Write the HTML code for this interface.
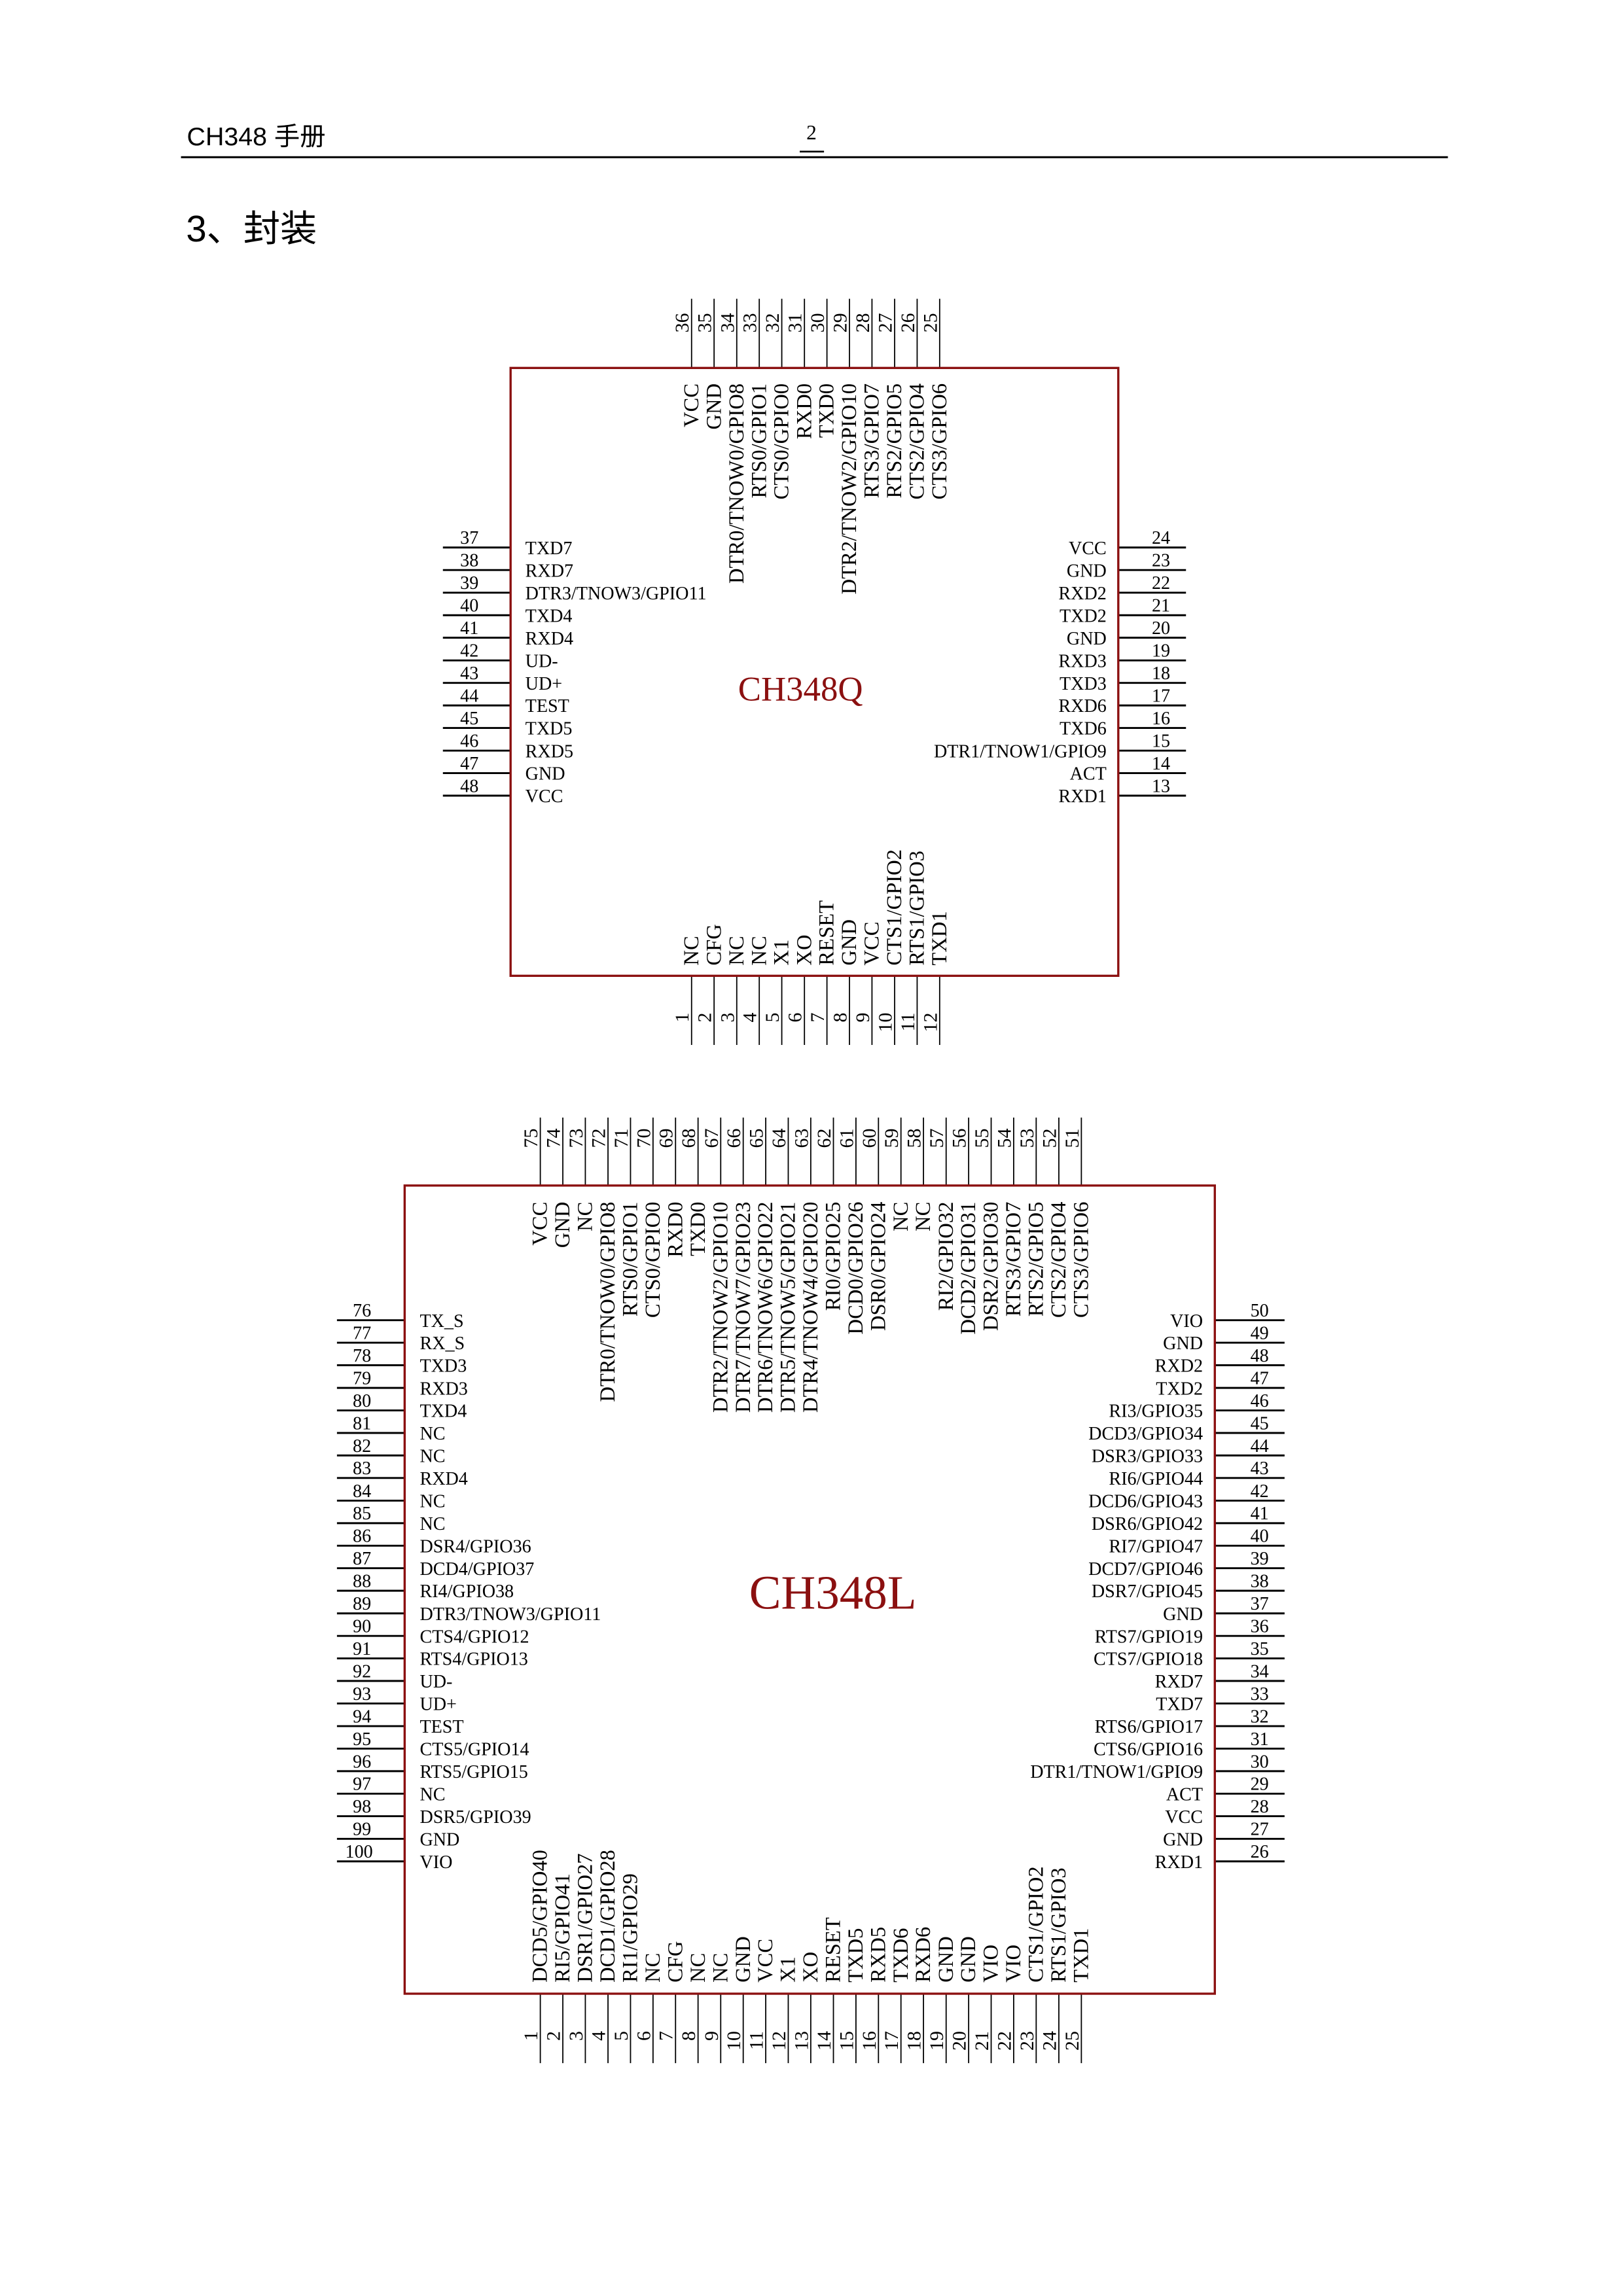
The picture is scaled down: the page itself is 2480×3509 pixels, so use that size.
<!DOCTYPE html>
<html><head><meta charset="utf-8"><style>
html,body{margin:0;padding:0;background:#fff}
svg{display:block}
text{font-family:"Liberation Serif",serif;fill:#000}
.s{font-size:12.5px}
.r{font-size:14.5px}
.q{font-size:13.3px}
.n{font-size:12.5px}
</style></head><body>
<svg width="2480" height="3509" viewBox="0 0 1103 1560" preserveAspectRatio="none" xmlns="http://www.w3.org/2000/svg">
<rect width="1103" height="1560" fill="#fff"/>
<text x="127" y="98.6" style="font-family:'Liberation Sans','Noto Sans CJK SC',sans-serif;font-size:17.5px">CH348 手册</text>
<text x="551.5" y="94.8" text-anchor="middle" style="font-size:14px">2</text>
<line x1="543.5" y1="103" x2="560" y2="103" stroke="#000" stroke-width="1.2"/>
<line x1="123" y1="106.8" x2="984" y2="106.8" stroke="#000" stroke-width="1.3"/>
<text x="126.5" y="164" style="font-family:'Liberation Sans','Noto Sans CJK SC',sans-serif;font-size:25px">3、封装</text>

<!-- ===== CH348Q ===== -->
<path d="M470 203V250M485.3 203V250M500.7 203V250M516 203V250M531.3 203V250M546.7 203V250M562 203V250M577.3 203V250M592.6 203V250M608 203V250M623.3 203V250M638.6 203V250
M470 663V710M485.3 663V710M500.7 663V710M516 663V710M531.3 663V710M546.7 663V710M562 663V710M577.3 663V710M592.6 663V710M608 663V710M623.3 663V710M638.6 663V710" stroke="#000" stroke-width="0.8"/>
<path d="M301 372H347M301 387.3H347M301 402.7H347M301 418H347M301 433.3H347M301 448.7H347M301 464H347M301 479.3H347M301 494.6H347M301 510H347M301 525.3H347M301 540.6H347
M760 372H806M760 387.3H806M760 402.7H806M760 418H806M760 433.3H806M760 448.7H806M760 464H806M760 479.3H806M760 494.6H806M760 510H806M760 525.3H806M760 540.6H806" stroke="#000" stroke-width="1.3"/>
<rect x="347" y="250" width="413" height="413" fill="none" stroke="#8b1010" stroke-width="1.5"/>
<text x="544" y="476" text-anchor="middle" style="font-size:23.5px;fill:#8b1010">CH348Q</text>

<g class="s" transform="translate(0,3)">
<text x="357" y="373.5">TXD7</text><text x="357" y="388.8">RXD7</text><text x="357" y="404.2">DTR3/TNOW3/GPIO11</text><text x="357" y="419.5">TXD4</text><text x="357" y="434.8">RXD4</text><text x="357" y="450.2">UD-</text><text x="357" y="465.5">UD+</text><text x="357" y="480.8">TEST</text><text x="357" y="496.1">TXD5</text><text x="357" y="511.5">RXD5</text><text x="357" y="526.8">GND</text><text x="357" y="542.1">VCC</text>
</g>
<g class="s" text-anchor="end" transform="translate(0,3)">
<text x="752" y="373.5">VCC</text><text x="752" y="388.8">GND</text><text x="752" y="404.2">RXD2</text><text x="752" y="419.5">TXD2</text><text x="752" y="434.8">GND</text><text x="752" y="450.2">RXD3</text><text x="752" y="465.5">TXD3</text><text x="752" y="480.8">RXD6</text><text x="752" y="496.1">TXD6</text><text x="752" y="511.5">DTR1/TNOW1/GPIO9</text><text x="752" y="526.8">ACT</text><text x="752" y="542.1">RXD1</text>
</g>
<g class="n" text-anchor="middle">
<text x="319" y="369.5">37</text><text x="319" y="384.8">38</text><text x="319" y="400.2">39</text><text x="319" y="415.5">40</text><text x="319" y="430.8">41</text><text x="319" y="446.2">42</text><text x="319" y="461.5">43</text><text x="319" y="476.8">44</text><text x="319" y="492.1">45</text><text x="319" y="507.5">46</text><text x="319" y="522.8">47</text><text x="319" y="538.1">48</text>
<text x="789" y="369.5">24</text><text x="789" y="384.8">23</text><text x="789" y="400.2">22</text><text x="789" y="415.5">21</text><text x="789" y="430.8">20</text><text x="789" y="446.2">19</text><text x="789" y="461.5">18</text><text x="789" y="476.8">17</text><text x="789" y="492.1">16</text><text x="789" y="507.5">15</text><text x="789" y="522.8">14</text><text x="789" y="538.1">13</text>
</g>
<g transform="rotate(-90)">
<g class="r" text-anchor="end">
<text x="-260.5" y="474.5">VCC</text><text x="-260.5" y="489.8">GND</text><text x="-260.5" y="505.2">DTR0/TNOW0/GPIO8</text><text x="-260.5" y="520.5">RTS0/GPIO1</text><text x="-260.5" y="535.8">CTS0/GPIO0</text><text x="-260.5" y="551.2">RXD0</text><text x="-260.5" y="566.5">TXD0</text><text x="-260.5" y="581.8">DTR2/TNOW2/GPIO10</text><text x="-260.5" y="597.1">RTS3/GPIO7</text><text x="-260.5" y="612.5">RTS2/GPIO5</text><text x="-260.5" y="627.8">CTS2/GPIO4</text><text x="-260.5" y="643.1">CTS3/GPIO6</text>
</g>
<g class="q">
<text x="-226" y="468">36</text><text x="-226" y="483.3">35</text><text x="-226" y="498.7">34</text><text x="-226" y="514">33</text><text x="-226" y="529.3">32</text><text x="-226" y="544.7">31</text><text x="-226" y="560">30</text><text x="-226" y="575.3">29</text><text x="-226" y="590.6">28</text><text x="-226" y="606">27</text><text x="-226" y="621.3">26</text><text x="-226" y="636.6">25</text>
</g>
<g class="r">
<text x="-656" y="474.5">NC</text><text x="-656" y="489.8">CFG</text><text x="-656" y="505.2">NC</text><text x="-656" y="520.5">NC</text><text x="-656" y="535.8">X1</text><text x="-656" y="551.2">XO</text><text x="-656" y="566.5">RESET</text><text x="-656" y="581.8">GND</text><text x="-656" y="597.1">VCC</text><text x="-656" y="612.5">CTS1/GPIO2</text><text x="-656" y="627.8">RTS1/GPIO3</text><text x="-656" y="643.1">TXD1</text>
</g>
<g class="q" text-anchor="end">
<text x="-688" y="468">1</text><text x="-688" y="483.3">2</text><text x="-688" y="498.7">3</text><text x="-688" y="514">4</text><text x="-688" y="529.3">5</text><text x="-688" y="544.7">6</text><text x="-688" y="560">7</text><text x="-688" y="575.3">8</text><text x="-688" y="590.6">9</text><text x="-688" y="606">10</text><text x="-688" y="621.3">11</text><text x="-688" y="636.6">12</text>
</g>
</g>

<!-- ===== CH348L ===== -->
<path d="M367.2 759.3V805.5M382.5 759.3V805.5M397.8 759.3V805.5M413.2 759.3V805.5M428.5 759.3V805.5M443.8 759.3V805.5M459.1 759.3V805.5M474.4 759.3V805.5M489.8 759.3V805.5M505.1 759.3V805.5M520.4 759.3V805.5M535.7 759.3V805.5M551 759.3V805.5M566.4 759.3V805.5M581.7 759.3V805.5M597 759.3V805.5M612.3 759.3V805.5M627.6 759.3V805.5M643 759.3V805.5M658.3 759.3V805.5M673.6 759.3V805.5M688.9 759.3V805.5M704.2 759.3V805.5M719.6 759.3V805.5M734.9 759.3V805.5
M367.2 1354.6V1401.8M382.5 1354.6V1401.8M397.8 1354.6V1401.8M413.2 1354.6V1401.8M428.5 1354.6V1401.8M443.8 1354.6V1401.8M459.1 1354.6V1401.8M474.4 1354.6V1401.8M489.8 1354.6V1401.8M505.1 1354.6V1401.8M520.4 1354.6V1401.8M535.7 1354.6V1401.8M551 1354.6V1401.8M566.4 1354.6V1401.8M581.7 1354.6V1401.8M597 1354.6V1401.8M612.3 1354.6V1401.8M627.6 1354.6V1401.8M643 1354.6V1401.8M658.3 1354.6V1401.8M673.6 1354.6V1401.8M688.9 1354.6V1401.8M704.2 1354.6V1401.8M719.6 1354.6V1401.8M734.9 1354.6V1401.8" stroke="#000" stroke-width="0.8"/>
<path d="M229 897H275M229 912.3H275M229 927.6H275M229 943H275M229 958.3H275M229 973.6H275M229 988.9H275M229 1004.2H275M229 1019.6H275M229 1034.9H275M229 1050.2H275M229 1065.5H275M229 1080.8H275M229 1096.2H275M229 1111.5H275M229 1126.8H275M229 1142.1H275M229 1157.4H275M229 1172.8H275M229 1188.1H275M229 1203.4H275M229 1218.7H275M229 1234H275M229 1249.4H275M229 1264.7H275
M825.6 897H873M825.6 912.3H873M825.6 927.6H873M825.6 943H873M825.6 958.3H873M825.6 973.6H873M825.6 988.9H873M825.6 1004.2H873M825.6 1019.6H873M825.6 1034.9H873M825.6 1050.2H873M825.6 1065.5H873M825.6 1080.8H873M825.6 1096.2H873M825.6 1111.5H873M825.6 1126.8H873M825.6 1142.1H873M825.6 1157.4H873M825.6 1172.8H873M825.6 1188.1H873M825.6 1203.4H873M825.6 1218.7H873M825.6 1234H873M825.6 1249.4H873M825.6 1264.7H873" stroke="#000" stroke-width="1.3"/>
<rect x="275" y="805.5" width="550.6" height="549.1" fill="none" stroke="#8b1010" stroke-width="1.5"/>
<text x="566" y="1093" text-anchor="middle" style="font-size:32.5px;fill:#8b1010">CH348L</text>

<g class="s" transform="translate(0,3)">
<text x="285.3" y="898.5">TX_S</text><text x="285.3" y="913.8">RX_S</text><text x="285.3" y="929.1">TXD3</text><text x="285.3" y="944.5">RXD3</text><text x="285.3" y="959.8">TXD4</text><text x="285.3" y="975.1">NC</text><text x="285.3" y="990.4">NC</text><text x="285.3" y="1005.7">RXD4</text><text x="285.3" y="1021.1">NC</text><text x="285.3" y="1036.4">NC</text><text x="285.3" y="1051.7">DSR4/GPIO36</text><text x="285.3" y="1067">DCD4/GPIO37</text><text x="285.3" y="1082.3">RI4/GPIO38</text><text x="285.3" y="1097.7">DTR3/TNOW3/GPIO11</text><text x="285.3" y="1113">CTS4/GPIO12</text><text x="285.3" y="1128.3">RTS4/GPIO13</text><text x="285.3" y="1143.6">UD-</text><text x="285.3" y="1158.9">UD+</text><text x="285.3" y="1174.3">TEST</text><text x="285.3" y="1189.6">CTS5/GPIO14</text><text x="285.3" y="1204.9">RTS5/GPIO15</text><text x="285.3" y="1220.2">NC</text><text x="285.3" y="1235.5">DSR5/GPIO39</text><text x="285.3" y="1250.9">GND</text><text x="285.3" y="1266.2">VIO</text>
</g>
<g class="s" text-anchor="end" transform="translate(0,3)">
<text x="817.5" y="898.5">VIO</text><text x="817.5" y="913.8">GND</text><text x="817.5" y="929.1">RXD2</text><text x="817.5" y="944.5">TXD2</text><text x="817.5" y="959.8">RI3/GPIO35</text><text x="817.5" y="975.1">DCD3/GPIO34</text><text x="817.5" y="990.4">DSR3/GPIO33</text><text x="817.5" y="1005.7">RI6/GPIO44</text><text x="817.5" y="1021.1">DCD6/GPIO43</text><text x="817.5" y="1036.4">DSR6/GPIO42</text><text x="817.5" y="1051.7">RI7/GPIO47</text><text x="817.5" y="1067">DCD7/GPIO46</text><text x="817.5" y="1082.3">DSR7/GPIO45</text><text x="817.5" y="1097.7">GND</text><text x="817.5" y="1113">RTS7/GPIO19</text><text x="817.5" y="1128.3">CTS7/GPIO18</text><text x="817.5" y="1143.6">RXD7</text><text x="817.5" y="1158.9">TXD7</text><text x="817.5" y="1174.3">RTS6/GPIO17</text><text x="817.5" y="1189.6">CTS6/GPIO16</text><text x="817.5" y="1204.9">DTR1/TNOW1/GPIO9</text><text x="817.5" y="1220.2">ACT</text><text x="817.5" y="1235.5">VCC</text><text x="817.5" y="1250.9">GND</text><text x="817.5" y="1266.2">RXD1</text>
</g>
<g class="n" text-anchor="middle">
<text x="246" y="894.5">76</text><text x="246" y="909.8">77</text><text x="246" y="925.1">78</text><text x="246" y="940.5">79</text><text x="246" y="955.8">80</text><text x="246" y="971.1">81</text><text x="246" y="986.4">82</text><text x="246" y="1001.7">83</text><text x="246" y="1017.1">84</text><text x="246" y="1032.4">85</text><text x="246" y="1047.7">86</text><text x="246" y="1063">87</text><text x="246" y="1078.3">88</text><text x="246" y="1093.7">89</text><text x="246" y="1109">90</text><text x="246" y="1124.3">91</text><text x="246" y="1139.6">92</text><text x="246" y="1154.9">93</text><text x="246" y="1170.3">94</text><text x="246" y="1185.6">95</text><text x="246" y="1200.9">96</text><text x="246" y="1216.2">97</text><text x="246" y="1231.5">98</text><text x="246" y="1246.9">99</text><text x="244" y="1262.2">100</text>
<text x="856" y="894.5">50</text><text x="856" y="909.8">49</text><text x="856" y="925.1">48</text><text x="856" y="940.5">47</text><text x="856" y="955.8">46</text><text x="856" y="971.1">45</text><text x="856" y="986.4">44</text><text x="856" y="1001.7">43</text><text x="856" y="1017.1">42</text><text x="856" y="1032.4">41</text><text x="856" y="1047.7">40</text><text x="856" y="1063">39</text><text x="856" y="1078.3">38</text><text x="856" y="1093.7">37</text><text x="856" y="1109">36</text><text x="856" y="1124.3">35</text><text x="856" y="1139.6">34</text><text x="856" y="1154.9">33</text><text x="856" y="1170.3">32</text><text x="856" y="1185.6">31</text><text x="856" y="1200.9">30</text><text x="856" y="1216.2">29</text><text x="856" y="1231.5">28</text><text x="856" y="1246.9">27</text><text x="856" y="1262.2">26</text>
</g>
<g transform="rotate(-90)">
<g class="r" text-anchor="end">
<text x="-816.5" y="371.7">VCC</text><text x="-816.5" y="387">GND</text><text x="-816.5" y="402.3">NC</text><text x="-816.5" y="417.7">DTR0/TNOW0/GPIO8</text><text x="-816.5" y="433">RTS0/GPIO1</text><text x="-816.5" y="448.3">CTS0/GPIO0</text><text x="-816.5" y="463.6">RXD0</text><text x="-816.5" y="478.9">TXD0</text><text x="-816.5" y="494.3">DTR2/TNOW2/GPIO10</text><text x="-816.5" y="509.6">DTR7/TNOW7/GPIO23</text><text x="-816.5" y="524.9">DTR6/TNOW6/GPIO22</text><text x="-816.5" y="540.2">DTR5/TNOW5/GPIO21</text><text x="-816.5" y="555.5">DTR4/TNOW4/GPIO20</text><text x="-816.5" y="570.9">RI0/GPIO25</text><text x="-816.5" y="586.2">DCD0/GPIO26</text><text x="-816.5" y="601.5">DSR0/GPIO24</text><text x="-816.5" y="616.8">NC</text><text x="-816.5" y="632.1">NC</text><text x="-816.5" y="647.5">RI2/GPIO32</text><text x="-816.5" y="662.8">DCD2/GPIO31</text><text x="-816.5" y="678.1">DSR2/GPIO30</text><text x="-816.5" y="693.4">RTS3/GPIO7</text><text x="-816.5" y="708.7">RTS2/GPIO5</text><text x="-816.5" y="724.1">CTS2/GPIO4</text><text x="-816.5" y="739.4">CTS3/GPIO6</text>
</g>
<g class="q">
<text x="-780" y="365.2">75</text><text x="-780" y="380.5">74</text><text x="-780" y="395.8">73</text><text x="-780" y="411.2">72</text><text x="-780" y="426.5">71</text><text x="-780" y="441.8">70</text><text x="-780" y="457.1">69</text><text x="-780" y="472.4">68</text><text x="-780" y="487.8">67</text><text x="-780" y="503.1">66</text><text x="-780" y="518.4">65</text><text x="-780" y="533.7">64</text><text x="-780" y="549">63</text><text x="-780" y="564.4">62</text><text x="-780" y="579.7">61</text><text x="-780" y="595">60</text><text x="-780" y="610.3">59</text><text x="-780" y="625.6">58</text><text x="-780" y="641">57</text><text x="-780" y="656.3">56</text><text x="-780" y="671.6">55</text><text x="-780" y="686.9">54</text><text x="-780" y="702.2">53</text><text x="-780" y="717.6">52</text><text x="-780" y="732.9">51</text>
</g>
<g class="r">
<text x="-1347" y="371.7">DCD5/GPIO40</text><text x="-1347" y="387">RI5/GPIO41</text><text x="-1347" y="402.3">DSR1/GPIO27</text><text x="-1347" y="417.7">DCD1/GPIO28</text><text x="-1347" y="433">RI1/GPIO29</text><text x="-1347" y="448.3">NC</text><text x="-1347" y="463.6">CFG</text><text x="-1347" y="478.9">NC</text><text x="-1347" y="494.3">NC</text><text x="-1347" y="509.6">GND</text><text x="-1347" y="524.9">VCC</text><text x="-1347" y="540.2">X1</text><text x="-1347" y="555.5">XO</text><text x="-1347" y="570.9">RESET</text><text x="-1347" y="586.2">TXD5</text><text x="-1347" y="601.5">RXD5</text><text x="-1347" y="616.8">TXD6</text><text x="-1347" y="632.1">RXD6</text><text x="-1347" y="647.5">GND</text><text x="-1347" y="662.8">GND</text><text x="-1347" y="678.1">VIO</text><text x="-1347" y="693.4">VIO</text><text x="-1347" y="708.7">CTS1/GPIO2</text><text x="-1347" y="724.1">RTS1/GPIO3</text><text x="-1347" y="739.4">TXD1</text>
</g>
<g class="q" text-anchor="end">
<text x="-1380" y="365.2">1</text><text x="-1380" y="380.5">2</text><text x="-1380" y="395.8">3</text><text x="-1380" y="411.2">4</text><text x="-1380" y="426.5">5</text><text x="-1380" y="441.8">6</text><text x="-1380" y="457.1">7</text><text x="-1380" y="472.4">8</text><text x="-1380" y="487.8">9</text><text x="-1380" y="503.1">10</text><text x="-1380" y="518.4">11</text><text x="-1380" y="533.7">12</text><text x="-1380" y="549">13</text><text x="-1380" y="564.4">14</text><text x="-1380" y="579.7">15</text><text x="-1380" y="595">16</text><text x="-1380" y="610.3">17</text><text x="-1380" y="625.6">18</text><text x="-1380" y="641">19</text><text x="-1380" y="656.3">20</text><text x="-1380" y="671.6">21</text><text x="-1380" y="686.9">22</text><text x="-1380" y="702.2">23</text><text x="-1380" y="717.6">24</text><text x="-1380" y="732.9">25</text>
</g>
</g>
</svg>
</body></html>
